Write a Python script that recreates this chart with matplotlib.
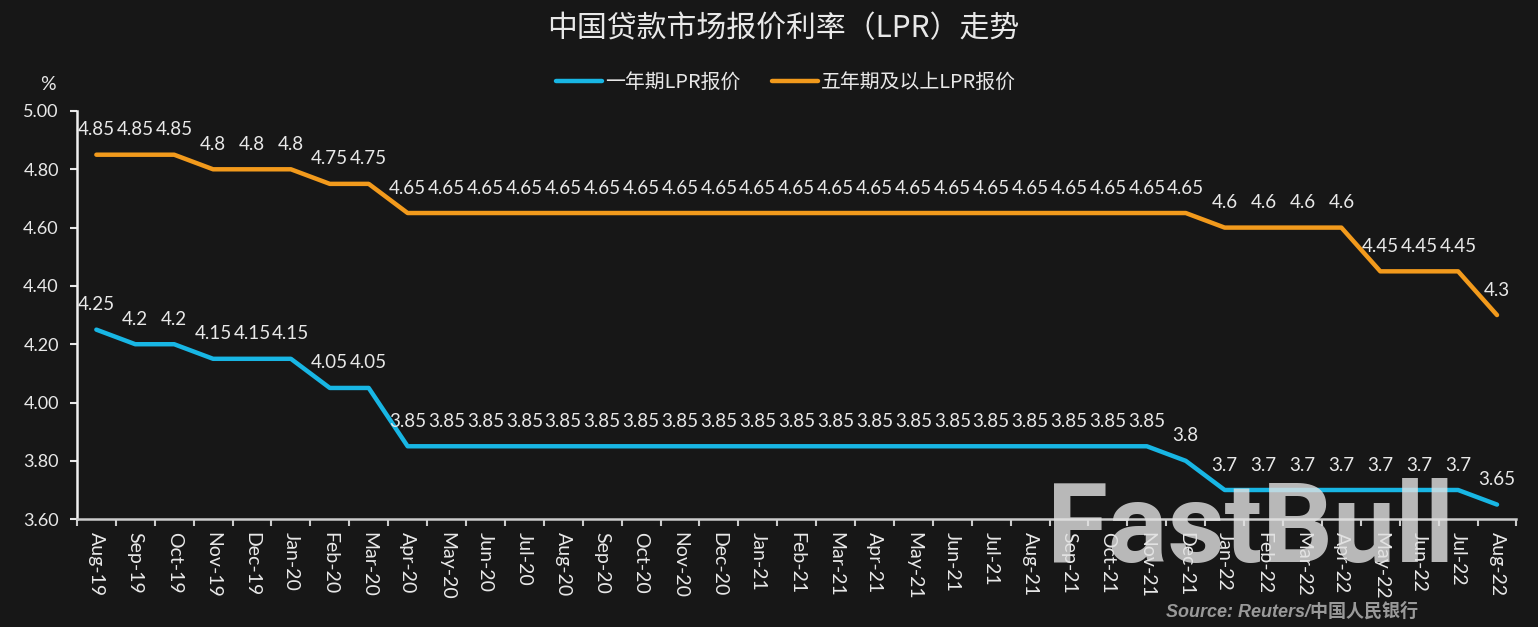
import matplotlib
matplotlib.use("Agg")
import matplotlib.pyplot as plt
import numpy as np

plt.rcParams['font.family'] = ['Lato', 'Noto Sans CJK SC', 'DejaVu Sans']

months = ["Aug-19", "Sep-19", "Oct-19", "Nov-19", "Dec-19",
          "Jan-20", "Feb-20", "Mar-20", "Apr-20", "May-20", "Jun-20", "Jul-20",
          "Aug-20", "Sep-20", "Oct-20", "Nov-20", "Dec-20",
          "Jan-21", "Feb-21", "Mar-21", "Apr-21", "May-21", "Jun-21", "Jul-21",
          "Aug-21", "Sep-21", "Oct-21", "Nov-21", "Dec-21",
          "Jan-22", "Feb-22", "Mar-22", "Apr-22", "May-22", "Jun-22", "Jul-22",
          "Aug-22"]
lpr_1y = [4.25, 4.2, 4.2, 4.15, 4.15, 4.15, 4.05, 4.05,
          3.85, 3.85, 3.85, 3.85, 3.85, 3.85, 3.85, 3.85, 3.85, 3.85,
          3.85, 3.85, 3.85, 3.85, 3.85, 3.85, 3.85, 3.85, 3.85, 3.85,
          3.8, 3.7, 3.7, 3.7, 3.7, 3.7, 3.7, 3.7, 3.65]
lpr_5y = [4.85, 4.85, 4.85, 4.8, 4.8, 4.8, 4.75, 4.75,
          4.65, 4.65, 4.65, 4.65, 4.65, 4.65, 4.65, 4.65, 4.65, 4.65,
          4.65, 4.65, 4.65, 4.65, 4.65, 4.65, 4.65, 4.65, 4.65, 4.65, 4.65,
          4.6, 4.6, 4.6, 4.6, 4.45, 4.45, 4.45, 4.3]

bg = '#171717'
txt = '#e8e8e8'
blue = '#18b6e4'
orange = '#f29a1c'

fig = plt.figure(figsize=(15.38, 6.27), dpi=100, facecolor=bg)
ax = fig.add_axes([0.050, 0.172, 0.936, 0.651], facecolor=bg)

x = np.arange(len(months))
ax.plot(x, lpr_1y, color=blue, lw=3.2, label='一年期LPR报价', solid_capstyle='round')
ax.plot(x, lpr_5y, color=orange, lw=3.2, label='五年期及以上LPR报价', solid_capstyle='round')

# data labels above each point
for series in (lpr_1y, lpr_5y):
    for xi, v in zip(x, series):
        ax.annotate(f'{v:g}', (xi, v), xytext=(0, 18), textcoords='offset points',
                    ha='center', va='center', color=txt, fontsize=13.5)

ax.set_xlim(-0.5, len(months) - 0.5)
ax.set_ylim(3.6, 5.0)
yt = np.arange(3.6, 5.01, 0.2)
ax.set_yticks(yt)
ax.set_yticklabels([f'{t:.2f}' for t in yt])
ax.set_xticks(x)
ax.set_xticklabels(months, rotation=270, fontsize=14, color=txt)
ax.set_xticks(np.arange(-0.5, len(months), 1), minor=True)
ax.tick_params(axis='x', which='major', length=0, pad=9)
ax.tick_params(axis='x', which='minor', length=5, color='#cccccc', width=1.5, direction='out')
ax.tick_params(axis='y', colors=txt, labelsize=13, length=5, width=1.5, pad=8)

for s in ['top', 'right']:
    ax.spines[s].set_visible(False)
ax.spines['left'].set_color('#f0f0f0')
ax.spines['left'].set_linewidth(1.8)
ax.spines['bottom'].set_color('#cccccc')
ax.spines['bottom'].set_linewidth(1.8)

fig.text(0.031, 0.865, '%', color=txt, fontsize=14, ha='center', va='center')
fig.text(0.509, 0.955, '中国贷款市场报价利率（LPR）走势', color=txt, fontsize=21.5,
         ha='center', va='center', family=['Noto Sans CJK SC', 'DejaVu Sans'])

leg = fig.legend(loc='center', bbox_to_anchor=(0.511, 0.868), ncol=2, frameon=False,
                 prop={'family': ['Noto Sans CJK SC'], 'size': 14.3}, handlelength=2.3,
                 handletextpad=0.15, columnspacing=1.6)
for t in leg.get_texts():
    t.set_color(txt)

fig.text(0.813, 0.104, 'FastBull', color='#e2e2e2', alpha=0.8, fontsize=80,
         fontweight='bold', family=['Roboto'], ha='center', va='baseline')
fig.text(0.84, 0.024, 'Source: Reuters/中国人民银行', color='#9a9a9a', fontsize=13,
         fontweight='bold', style='italic', ha='center', va='center',
         family=['Liberation Sans', 'Noto Sans CJK SC'])

fig.savefig('out.png', dpi=100, facecolor=bg)
